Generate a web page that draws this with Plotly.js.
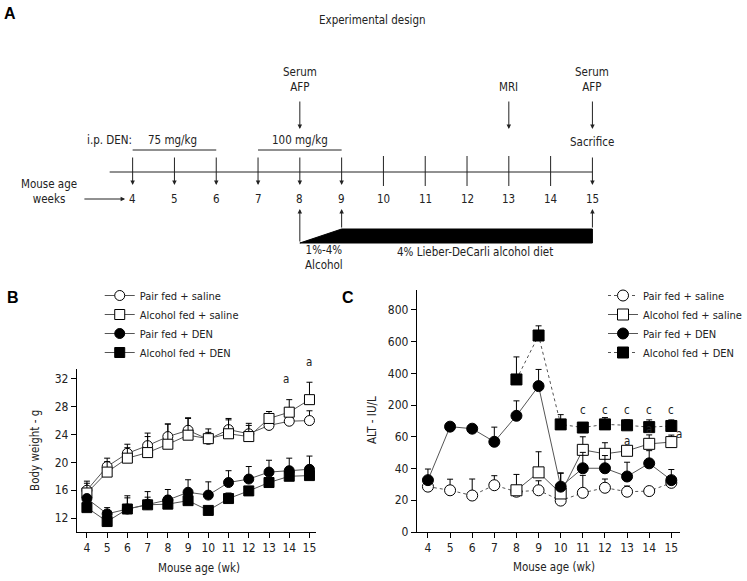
<!DOCTYPE html>
<html>
<head>
<meta charset="utf-8">
<script src="https://cdn.plot.ly/plotly-3.0.1.min.js"></script>
<style>
  html, body { margin: 0; padding: 0; background: #fff; }
  #chart { width: 747px; height: 581px; }
</style>
</head>
<body>
<div id="chart"></div>
<script>
// weeks of mouse age
const weeks = [4, 5, 6, 7, 8, 9, 10, 11, 12, 13, 14, 15];
const alcWeeks = [8, 9, 10, 11, 12, 13, 14, 15];
const seriesNames = ['Pair fed + saline', 'Alcohol fed + saline', 'Pair fed + DEN', 'Alcohol fed + DEN'];

// panel A - design
const den75Weeks = [4, 5, 6];
const den100Weeks = [7, 8, 9];
const plainTickWeeks = [10, 11, 12, 13, 14];
const eventWeeks = [8, 13, 15];
const eventLabels = ['Serum<br>AFP', 'MRI', 'Serum<br>AFP'];
const dietStart = 8, dietFull = 9, dietEnd = 15;

// panel B - body weight (g), mean and upper SEM
const bwPairSaline = [16.0, 19.4, 21.3, 22.4, 23.7, 24.6, 23.3, 24.7, 24.1, 25.3, 25.9, 26.0];
const bwPairSalineErr = [1.3, 1.2, 1.3, 1.8, 1.8, 1.8, 1.0, 1.6, 1.5, 0.6, 0.5, 1.4];
const bwAlcSaline = [15.6, 18.6, 20.6, 21.4, 22.6, 23.9, 23.4, 24.1, 23.7, 26.3, 27.2, 29.0];
const bwAlcSalineErr = [1.4, 1.5, 1.5, 2.3, 2.9, 2.4, 1.4, 2.0, 1.6, 1.0, 1.8, 2.5];
const bwPairDen = [14.8, 12.6, 13.3, 14.0, 14.6, 15.7, 15.3, 17.1, 17.6, 18.6, 18.8, 19.0];
const bwPairDenErr = [0.5, 0.9, 1.9, 1.8, 1.5, 1.8, 1.9, 1.7, 1.8, 1.7, 1.8, 1.9];
const bwAlcDen = [13.5, 11.5, 13.3, 13.9, 14.0, 14.5, 13.1, 14.8, 15.9, 17.1, 18.0, 18.1];
const bwAlcDenErr = [0.5, 0.8, 1.6, 1.1, 1.2, 1.4, 0.6, 0.8, 0.6, 0.5, 1.3, 0.8];
const bwTicks = [12, 16, 20, 24, 28, 32];

// panel C - ALT (IU/L)
const altPairSaline = [28.6, 26.3, 23.0, 29.5, 25.4, 26.3, 19.8, 24.7, 27.9, 25.4, 25.8, 31.0];
const altPairSalineErr = [2, 7, 10.4, 6, 4, 6, 3, 11, 5.5, 3.6, 2, 2];
const altAlcSaline = [26.3, 37.6, 24.3, 51.8, 49.3, 51.2, 55.6, 56.7];
const altAlcSalineErr = [10, 13, 13, 8.5, 7, 2.6, 13, 11];
const altPairDen = [32.7, 105, 96, 56.9, 153, 320, 28.6, 40.2, 40.2, 35.0, 43.3, 32.7];
const altPairDenErr = [7, 0, 0, 46, 74, 105, 8.4, 10, 8, 9, 8, 6.7];
const altAlcDen = [362, 639, 115, 101, 115, 111, 103, 108];
const altAlcDenErr = [142, 61, 43, 5, 30, 24, 32, 27];
const altTicks = [0, 20, 40, 60, 200, 400, 600, 800];

// broken ALT axis: each tick interval gets the same height
function altScale(v) {
  for (let i = 0; i < altTicks.length - 1; i++) {
    if (v <= altTicks[i + 1]) return i + (v - altTicks[i]) / (altTicks[i + 1] - altTicks[i]);
  }
  const n = altTicks.length - 1;
  return n + (v - altTicks[n]) / (altTicks[n] - altTicks[n - 1]);
}

const FONT = "'DejaVu Sans Condensed', 'Liberation Sans', Arial, sans-serif";
const TXT = '#222';
const W = 747, H = 581;
const px = x => x / W;
const py = y => 1 - y / H;

function bwTrace(name, y, err, symbol, fill) {
  return {
    x: weeks, y: y, name: name, type: 'scatter', mode: 'lines+markers',
    line: { color: '#555', width: 1 },
    marker: { symbol: symbol, size: 10, color: fill, line: { color: '#000', width: 1 } },
    error_y: { type: 'data', symmetric: false, array: err, arrayminus: err.map(() => 0),
               color: '#000', thickness: 1, width: 3 },
    xaxis: 'x', yaxis: 'y', legend: 'legend'
  };
}

function altTrace(name, x, vals, err, symbol, fill, dash) {
  const yt = vals.map(altScale);
  return {
    x: x, y: yt, name: name, type: 'scatter', mode: 'lines+markers',
    line: { color: '#555', width: 1, dash: dash },
    marker: { symbol: symbol, size: 11, color: fill, line: { color: '#000', width: 1 } },
    error_y: { type: 'data', symmetric: false,
               array: vals.map((v, i) => altScale(v + err[i]) - yt[i]),
               arrayminus: vals.map(() => 0), color: '#000', thickness: 1, width: 3 },
    xaxis: 'x2', yaxis: 'y2', legend: 'legend2'
  };
}

const data = [
  bwTrace(seriesNames[0], bwPairSaline, bwPairSalineErr, 'circle', '#fff'),
  bwTrace(seriesNames[1], bwAlcSaline, bwAlcSalineErr, 'square', '#fff'),
  bwTrace(seriesNames[2], bwPairDen, bwPairDenErr, 'circle', '#000'),
  bwTrace(seriesNames[3], bwAlcDen, bwAlcDenErr, 'square', '#000'),
  altTrace(seriesNames[0], weeks, altPairSaline, altPairSalineErr, 'circle', '#fff', 'dot'),
  altTrace(seriesNames[1], alcWeeks, altAlcSaline, altAlcSalineErr, 'square', '#fff', 'solid'),
  altTrace(seriesNames[2], weeks, altPairDen, altPairDenErr, 'circle', '#000', 'solid'),
  altTrace(seriesNames[3], alcWeeks, altAlcDen, altAlcDenErr, 'square', '#000', 'dot')
];

// ---- panel A drawn on a hidden axis: x = weeks, y = pixel rows
const A = { xref: 'x3', yref: 'y3' };
const shapes = [];
const ann = [];
const line = (x0, y0, x1, y1, w) => shapes.push(Object.assign({ type: 'line', x0, y0, x1, y1,
  line: { color: TXT, width: w || 1 } }, A));
const arrow = (x, y, ax, ay) => ann.push(Object.assign({ x, y, ax, ay, axref: 'x3', ayref: 'y3',
  text: '', showarrow: true, arrowhead: 2, arrowsize: 0.9, arrowwidth: 1, arrowcolor: TXT, standoff: 0 }, A));
const label = (x, y, text, extra) => ann.push(Object.assign({ x, y, text, showarrow: false,
  xanchor: 'center', yanchor: 'middle',
  font: { family: FONT, size: 11.5, color: TXT } }, A, extra || {}));

line(3.45, 172, weeks[weeks.length - 1], 172);
den75Weeks.concat(den100Weeks, [dietEnd]).forEach(w => arrow(w, 185, w, 156));
plainTickWeeks.forEach(w => line(w, 156, w, 186));
weeks.forEach(w => label(w, 199, String(w)));
line(den75Weeks[0], 150, den75Weeks[den75Weeks.length - 1], 150);
line(den100Weeks[0], 150, den100Weeks[den100Weeks.length - 1], 150);
label(3.45, 140, 'i.p. DEN:');
label(4.95, 140, '75 mg/kg');
label(8, 140, '100 mg/kg');
eventWeeks.forEach((w, i) => {
  label(w, eventLabels[i].indexOf('<br>') > 0 ? 79 : 87, eventLabels[i]);
  arrow(w, 129, w, 100);
});
label(dietEnd, 142, 'Sacrifice');
label(2.0, 191, 'Mouse age<br>weeks');
arrow(3.82, 199, 2.81, 199);
shapes.push(Object.assign({ type: 'path', fillcolor: '#000', line: { color: '#000', width: 1 },
  path: `M ${dietStart},243 L ${dietFull},229 L ${dietEnd},229 L ${dietEnd},243 Z` }, A));
arrow(dietStart, 209, dietStart, 243);
arrow(dietFull, 209, dietFull, 229);
arrow(dietEnd, 209, dietEnd, 229);
label(8.57, 257.5, '1%-4%<br>Alcohol');
label(12.2, 252, '4% Lieber-DeCarli alcohol diet');

// panel letters, titles
const paperText = (x, y, text, extra) => ann.push(Object.assign({ xref: 'paper', yref: 'paper',
  x: px(x), y: py(y), text, showarrow: false, xanchor: 'center', yanchor: 'middle',
  font: { family: FONT, size: 11.5, color: TXT } }, extra || {}));
const letterFont = { family: "'Liberation Sans', Arial, sans-serif", size: 16, color: '#000' };
paperText(373.5, 20, 'Experimental design');
paperText(10, 14, '<b>A</b>', { font: letterFont });
paperText(13, 297, '<b>B</b>', { font: letterFont });
paperText(349, 297, '<b>C</b>', { font: letterFont });
paperText(35, 450, 'Body weight - g', { textangle: -90 });
paperText(200, 568, 'Mouse age (wk)');
paperText(373, 420, 'ALT - IU/L', { textangle: -90 });
paperText(555, 567, 'Mouse age (wk)');

// significance marks
const mark = (xa, ya, x, y, text, xs, ys) => ann.push({ xref: xa, yref: ya, x, y, text, showarrow: false,
  xanchor: 'center', yanchor: 'middle', xshift: xs, yshift: ys,
  font: { family: FONT, size: 11.5, color: TXT } });
mark('x', 'y', 14, bwAlcSaline[10] + bwAlcSalineErr[10], 'a', -3, 21);
mark('x', 'y', 15, bwAlcSaline[11] + bwAlcSalineErr[11], 'a', 0, 20);
alcWeeks.slice(3).forEach(w => mark('x2', 'y2', w, altScale(178), 'c', 0, 0));
[13, 14].forEach(w => {
  const i = alcWeeks.indexOf(w);
  mark('x2', 'y2', w, altScale(altAlcSaline[i] + altAlcSalineErr[i]), 'a', 0, 6);
});
mark('x2', 'y2', 15, altScale(altAlcSaline[7] + altAlcSalineErr[7]), 'a', 8, 1);

const axisBase = {
  showline: true, linecolor: '#000', linewidth: 1, showgrid: false, zeroline: false,
  ticks: 'outside', ticklen: 5, tickcolor: '#000', tickwidth: 1,
  tickfont: { family: FONT, size: 12, color: TXT }, fixedrange: true
};

const legendBase = {
  font: { family: FONT, size: 11, color: TXT }, bgcolor: 'rgba(0,0,0,0)',
  xanchor: 'left', yanchor: 'top', orientation: 'v', itemclick: false
};

const layout = {
  width: W, height: H,
  margin: { l: 0, r: 0, t: 0, b: 0 },
  paper_bgcolor: '#fff', plot_bgcolor: 'rgba(0,0,0,0)',
  font: { family: FONT, size: 11, color: TXT },
  xaxis: Object.assign({}, axisBase, { domain: [px(77), px(317)], range: [3.5, 15.33],
    tickvals: weeks, anchor: 'y' }),
  yaxis: Object.assign({}, axisBase, { domain: [py(532), py(369)], range: [10, 33.4],
    tickvals: bwTicks, anchor: 'x' }),
  xaxis2: Object.assign({}, axisBase, { domain: [px(418), px(682)], range: [3.5, 15.4],
    tickvals: weeks, anchor: 'y2' }),
  yaxis2: Object.assign({}, axisBase, { domain: [py(532), py(290)], range: [0, 7.63],
    tickvals: altTicks.map((v, i) => i), ticktext: altTicks.map(String), anchor: 'x2' }),
  xaxis3: { domain: [0, 1], range: [4 - 133 / 41.91, 4 + (W - 133) / 41.91], visible: false,
    fixedrange: true, anchor: 'y3' },
  yaxis3: { domain: [py(290), 1], range: [290, 0], visible: false, fixedrange: true, anchor: 'x3' },
  legend: Object.assign({}, legendBase, { x: px(100), y: py(281) }),
  legend2: Object.assign({}, legendBase, { x: px(605), y: py(281) }),
  shapes: shapes,
  annotations: ann,
  showlegend: true
};

Plotly.newPlot('chart', data, layout, { displayModeBar: false, staticPlot: true });
</script>
</body>
</html>
